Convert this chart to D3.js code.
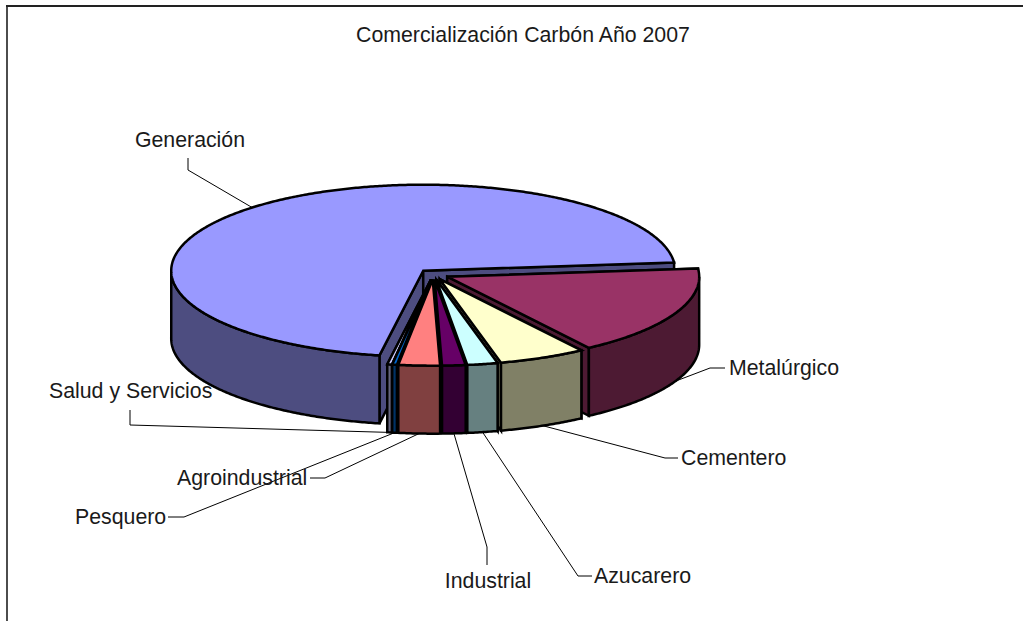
<!DOCTYPE html>
<html>
<head>
<meta charset="utf-8">
<title>Comercialización Carbón Año 2007</title>
<script src="https://cdn.jsdelivr.net/npm/d3@7"></script>
<style>
  html, body { margin: 0; background: #fff; }
  svg { display: block; }
  text { font-family: "Liberation Sans", Arial, sans-serif; font-size: 21.3px; fill: #1a1a1a; }
</style>
</head>
<body>
<div id="chart"></div>
<script>
let chartTitle = "Comercialización Carbón Año 2007"
let categories = ["Generación", "Metalúrgico", "Cementero", "Azucarero", "Industrial", "Agroindustrial", "Pesquero", "Salud y Servicios"]
let shares = [70.8, 17.05, 5.6, 1.95, 1.5, 2.65, 0.3, 0.3]
let colors = ["#9999ff", "#993366", "#ffffcc", "#ccffff", "#660066", "#ff8080", "#0066cc", "#ccccff"]

// label placement, same order as categories: text anchor point, then the leader's elbow points
let labelPos = [
    { x: 190, y: 140, anchor: "middle", elbow: [[188, 158], [188, 170]] },
    { x: 729, y: 368, anchor: "start", elbow: [[725, 368], [710, 368]] },
    { x: 681, y: 458, anchor: "start", elbow: [[678, 458], [665, 458]] },
    { x: 594, y: 576, anchor: "start", elbow: [[592, 576], [578, 576]] },
    { x: 488, y: 581, anchor: "middle", elbow: [[487, 565], [487, 547]] },
    { x: 177, y: 478, anchor: "start", elbow: [[310, 478], [325, 478]] },
    { x: 75, y: 517, anchor: "start", elbow: [[168, 517], [184, 517]] },
    { x: 49, y: 391, anchor: "start", elbow: [[130, 410], [130, 425]] }
]

let w = 1023, h = 621
let cx = 433.5, cy = 274.5  // pie centre before exploding
let rx = 252, ry = 86       // radii of the tilted disc
let depth = 68              // thickness of the disc
let explode = 0.06
let toRad = Math.PI / 180

let svg = d3.select("#chart").append("svg").attr("width", w).attr("height", h)

// frame is cut off by the picture on the right and at the bottom
svg.append("line")
    .attr("x1", 7).attr("x2", 7).attr("y1", 6).attr("y2", h)
    .attr("stroke", "#000").attr("stroke-width", 1.4)
svg.append("line")
    .attr("x1", 6).attr("x2", w).attr("y1", 6).attr("y2", 6)
    .attr("stroke", "#222").attr("stroke-width", 1.8)

svg.append("text")
    .attr("x", 523).attr("y", 35)
    .attr("text-anchor", "middle").attr("dy", "0.35em")
    .text(chartTitle)

let xScale = d3.scaleLinear().domain([-1, 1]).range([cx - rx, cx + rx])
let yScale = d3.scaleLinear().domain([1, -1]).range([cy - ry, cy + ry])

let pie = d3.pie().sort(null).startAngle(190 * toRad).endAngle(550 * toRad)
let slices = pie(shares).map((d, i) => {
    let mid = (d.startAngle + d.endAngle) / 2
    return {
        i: i,
        start: d.startAngle,
        end: d.endAngle,
        mid: mid,
        ox: explode * Math.sin(mid),
        oy: explode * Math.cos(mid)
    }
})

// point on slice s at angle t, r = radius 0..1, z = 0 top face, 1 bottom face
function pt(s, t, r, z) {
    return [xScale(s.ox + r * Math.sin(t)), yScale(s.oy + r * Math.cos(t)) + z * depth]
}

function arcPoints(s, a, b, z) {
    let n = Math.max(2, Math.ceil(Math.abs(b - a) / (0.5 * toRad)))
    return d3.range(n + 1).map(k => pt(s, a + (b - a) * k / n, 1, z))
}

let line = d3.line()

// the part of the outer wall facing the viewer, between 90 and 270 degrees
function wallRange(s) {
    let ranges = [[90, 270], [450, 630]]
    for (let r of ranges) {
        let a = Math.max(s.start, r[0] * toRad), b = Math.min(s.end, r[1] * toRad)
        if (b > a) return [a, b]
    }
    return null
}

let lineWidth = 2.5
let pieGroup = svg.append("g")
    .attr("stroke", "#000").attr("stroke-width", lineWidth).attr("stroke-linejoin", "miter")

// paint from the back to the front: furthest from the viewer's 180 degrees first
function frontDistance(s) {
    let a = (s.mid / toRad) % 360
    return Math.abs(a - 180)
}
let order = slices.slice().sort((a, b) => frontDistance(b) - frontDistance(a))

order.forEach(s => {
    let side = d3.rgb(colors[s.i])
    side = d3.rgb(side.r * 0.5, side.g * 0.5, side.b * 0.5).formatHex()

    ;[s.start, s.end].forEach(t => {
        let cut = [pt(s, 0, 0, 0), pt(s, t, 1, 0), pt(s, t, 1, 1), pt(s, 0, 0, 1)]
        pieGroup.append("path").attr("d", line(cut) + "Z").attr("fill", side)
    })

    let range = wallRange(s)
    if (range) {
        let wall = arcPoints(s, range[0], range[1], 0).concat(arcPoints(s, range[1], range[0], 1))
        pieGroup.append("path").attr("d", line(wall) + "Z").attr("fill", side)
    }

    let top = [pt(s, 0, 0, 0)].concat(arcPoints(s, s.start, s.end, 0))
    pieGroup.append("path").attr("d", line(top) + "Z").attr("fill", colors[s.i])
})

// leaders start on the slice at its middle angle: the top rim at the back, the bottom rim at the front
let leaderGroup = svg.append("g").attr("fill", "none").attr("stroke", "#000").attr("stroke-width", 1)
slices.forEach(s => {
    let front = Math.cos(s.mid) < 0
    let pts = labelPos[s.i].elbow.concat([pt(s, s.mid, 1, front ? 1 : 0)])
    leaderGroup.append("path").attr("d", line(pts))
})

svg.append("g").selectAll("text")
    .data(categories)
    .enter()
    .append("text")
    .attr("x", (d, i) => labelPos[i].x)
    .attr("y", (d, i) => labelPos[i].y)
    .attr("dy", "0.35em")
    .attr("text-anchor", (d, i) => labelPos[i].anchor)
    .text(d => d)
</script>
</body>
</html>
